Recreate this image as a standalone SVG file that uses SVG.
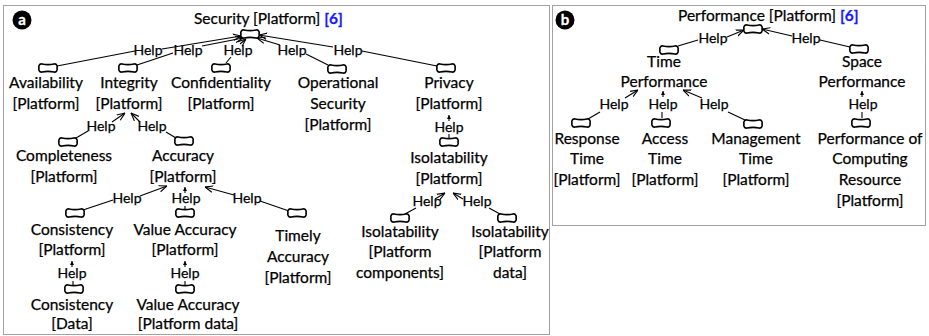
<svg xmlns="http://www.w3.org/2000/svg" width="929" height="336" viewBox="0 0 929 336">
<style>
text{font-family:Lato,"Open Sans",sans-serif;fill:#000;stroke:#000;stroke-width:0.25}
.t{font-size:15.5px;text-anchor:middle}
.h{font-size:14px;text-anchor:middle}
.ttl{font-size:15.5px}
.ref{fill:#1a1aff;stroke:#1a1aff;font-weight:bold}
.frame{fill:none;stroke:#444;stroke-width:1;stroke-dasharray:1,1}
.c{fill:#fff;stroke:#000;stroke-width:1.6}
.e{fill:none;stroke:#000;stroke-width:1.1}
.a{marker-end:url(#arr)}
.s{marker-end:url(#tri)}
.badge{fill:#000}
.bt{fill:#fff;stroke:#fff;stroke-width:0.3;font-size:15px;font-weight:bold;text-anchor:middle}
</style>
<defs>
<path id="cloud" d="M-6,-4 C-2,-3.1 2,-3.1 6,-4 C9,-4.6 9.6,-1 9,0 C9.6,1 9,4.6 6,4 C2,3.1 -2,3.1 -6,4 C-9,4.6 -9.6,1 -9,0 C-9.6,-1 -9,-4.6 -6,-4 Z"/>
<marker id="arr" viewBox="0 0 10 10" refX="10" refY="5" markerWidth="8" markerHeight="8" markerUnits="userSpaceOnUse" orient="auto">
<path d="M0,1 L10,5 L0,9" fill="none" stroke="#000" stroke-width="1.4"/>
</marker>
<marker id="tri" viewBox="0 0 10 10" refX="10" refY="5" markerWidth="4" markerHeight="4" markerUnits="userSpaceOnUse" orient="auto">
<path d="M0,0 L10,5 L0,10 Z" fill="#000"/>
</marker>
</defs>
<rect x="0" y="0" width="929" height="336" fill="#fff"/>

<rect class="frame" x="3.5" y="5.5" width="546" height="329"/>
<rect class="frame" x="552.5" y="5.5" width="373" height="220"/>

<g id="badge-a"><circle class="badge" cx="22" cy="20" r="9.5"/><text class="bt" x="22" y="25">a</text></g>
<g id="badge-b"><circle class="badge" cx="565" cy="20" r="9.5"/><text class="bt" x="565" y="25">b</text></g>

<g id="connectors">
<!-- Security -->
<line class="e" x1="57" y1="66" x2="135" y2="51"/>
<line class="e a" x1="162" y1="49" x2="241" y2="36"/>
<text class="h" x="148" y="55">Help</text>
<line class="e" x1="137" y1="65" x2="173" y2="53"/>
<line class="e a" x1="202" y1="46" x2="243" y2="38"/>
<text class="h" x="188" y="55">Help</text>
<line class="e" x1="226" y1="63" x2="231" y2="57"/>
<line class="e a" x1="240" y1="44" x2="246" y2="39"/>
<text class="h" x="238" y="55">Help</text>
<line class="e" x1="328" y1="65" x2="306" y2="54"/>
<line class="e a" x1="280" y1="45" x2="257" y2="38"/>
<text class="h" x="292" y="55">Help</text>
<line class="e" x1="437" y1="66" x2="362" y2="51"/>
<line class="e a" x1="333" y1="47" x2="259" y2="35"/>
<text class="h" x="348" y="55">Help</text>
<!-- Integrity -->
<line class="e" x1="76" y1="138" x2="88" y2="131"/>
<line class="e a" x1="112" y1="122" x2="125" y2="113"/>
<text class="h" x="101" y="131">Help</text>
<line class="e" x1="166" y1="132" x2="176" y2="138"/>
<line class="e a" x1="140" y1="122" x2="131" y2="113"/>
<text class="h" x="152" y="131">Help</text>
<!-- Accuracy -->
<line class="e" x1="83" y1="210" x2="113" y2="200"/>
<line class="e a" x1="140" y1="196" x2="167" y2="186"/>
<text class="h" x="127" y="203">Help</text>
<line class="e s" x1="185" y1="193" x2="185" y2="187"/>
<line class="e" x1="185" y1="206" x2="185" y2="209"/>
<text class="h" x="186" y="203">Help</text>
<line class="e" x1="289" y1="211" x2="260" y2="201"/>
<line class="e a" x1="234" y1="195" x2="205" y2="187"/>
<text class="h" x="247" y="203">Help</text>
<!-- Consistency / Value Accuracy -->
<line class="e s" x1="72" y1="267" x2="72" y2="261"/>
<line class="e" x1="73" y1="281" x2="73" y2="285"/>
<text class="h" x="72" y="278">Help</text>
<line class="e s" x1="185" y1="267" x2="185" y2="261"/>
<line class="e" x1="185" y1="281" x2="185" y2="285"/>
<text class="h" x="185" y="278">Help</text>
<!-- Privacy -->
<line class="e s" x1="449" y1="121" x2="449" y2="115"/>
<line class="e" x1="449" y1="134" x2="449" y2="138"/>
<text class="h" x="449" y="132">Help</text>
<!-- Isolatability -->
<line class="e" x1="405" y1="214" x2="416" y2="208"/>
<line class="e a" x1="435" y1="199" x2="445" y2="193"/>
<text class="h" x="427" y="206">Help</text>
<line class="e" x1="500" y1="214" x2="489" y2="208"/>
<line class="e a" x1="463" y1="199" x2="453" y2="193"/>
<text class="h" x="477" y="206">Help</text>
<!-- Performance -->
<line class="e" x1="678" y1="46" x2="698" y2="40"/>
<line class="e a" x1="727" y1="37" x2="744" y2="30"/>
<text class="h" x="713" y="43">Help</text>
<line class="e" x1="850" y1="47" x2="820" y2="40"/>
<line class="e a" x1="792" y1="36" x2="762" y2="29"/>
<text class="h" x="806" y="43">Help</text>
<!-- Time Performance -->
<line class="e" x1="588" y1="119" x2="600" y2="112"/>
<line class="e a" x1="625" y1="98" x2="638" y2="90"/>
<text class="h" x="614" y="109">Help</text>
<line class="e s" x1="663" y1="97" x2="663" y2="91"/>
<line class="e" x1="662" y1="112" x2="662" y2="118"/>
<text class="h" x="663" y="109">Help</text>
<line class="e" x1="728" y1="112" x2="745" y2="120"/>
<line class="e a" x1="702" y1="98" x2="683" y2="90"/>
<text class="h" x="714" y="109">Help</text>
<!-- Space Performance -->
<line class="e s" x1="862" y1="97" x2="862" y2="91"/>
<line class="e" x1="862" y1="112" x2="862" y2="118"/>
<text class="h" x="863" y="109">Help</text>
</g>

<g id="n-security"><use href="#cloud" x="250" y="34" class="c"/><text class="ttl" x="194" y="24">Security [Platform] <tspan class="ref">[6]</tspan></text></g>
<g id="n-availability"><use href="#cloud" x="48" y="68" class="c"/><text class="t" x="46" y="88">Availability<tspan x="46" dy="21">[Platform]</tspan></text></g>
<g id="n-integrity"><use href="#cloud" x="128" y="68" class="c"/><text class="t" x="129" y="88">Integrity<tspan x="129" dy="21">[Platform]</tspan></text></g>
<g id="n-confidentiality"><use href="#cloud" x="221" y="68" class="c"/><text class="t" x="221" y="88">Confidentiality<tspan x="221" dy="21">[Platform]</tspan></text></g>
<g id="n-opsec"><use href="#cloud" x="337" y="69" class="c"/><text class="t" x="338" y="88">Operational<tspan x="338" dy="21">Security</tspan><tspan x="338" dy="21">[Platform]</tspan></text></g>
<g id="n-privacy"><use href="#cloud" x="446" y="68" class="c"/><text class="t" x="449" y="88">Privacy<tspan x="449" dy="21">[Platform]</tspan></text></g>
<g id="n-completeness"><use href="#cloud" x="68" y="142" class="c"/><text class="t" x="64" y="161">Completeness<tspan x="64" dy="21">[Platform]</tspan></text></g>
<g id="n-accuracy"><use href="#cloud" x="184" y="141" class="c"/><text class="t" x="183" y="161">Accuracy<tspan x="183" dy="21">[Platform]</tspan></text></g>
<g id="n-isolatability"><use href="#cloud" x="449" y="142" class="c"/><text class="t" x="449" y="163">Isolatability<tspan x="449" dy="21">[Platform]</tspan></text></g>
<g id="n-consistency"><use href="#cloud" x="75" y="213" class="c"/><text class="t" x="72" y="235">Consistency<tspan x="72" dy="20">[Platform]</tspan></text></g>
<g id="n-valueaccuracy"><use href="#cloud" x="185" y="213" class="c"/><text class="t" x="185" y="235">Value Accuracy<tspan x="185" dy="20">[Platform]</tspan></text></g>
<g id="n-timely"><use href="#cloud" x="297" y="213" class="c"/><text class="t" x="298" y="241">Timely<tspan x="298" dy="21">Accuracy</tspan><tspan x="298" dy="21">[Platform]</tspan></text></g>
<g id="n-isocomp"><use href="#cloud" x="400" y="218" class="c"/><text class="t" x="400" y="237">Isolatability<tspan x="400" dy="20">[Platform</tspan><tspan x="400" dy="21">components]</tspan></text></g>
<g id="n-isodata"><use href="#cloud" x="507" y="218" class="c"/><text class="t" x="510" y="237">Isolatability<tspan x="510" dy="20">[Platform</tspan><tspan x="510" dy="21">data]</tspan></text></g>
<g id="n-consdata"><use href="#cloud" x="74" y="289" class="c"/><text class="t" x="72" y="310">Consistency<tspan x="72" dy="19">[Data]</tspan></text></g>
<g id="n-valdata"><use href="#cloud" x="185" y="289" class="c"/><text class="t" x="188" y="310">Value Accuracy<tspan x="188" dy="19">[Platform data]</tspan></text></g>

<g id="n-performance"><use href="#cloud" x="753" y="29" class="c"/><text class="ttl" x="678" y="21">Performance [Platform] <tspan class="ref">[6]</tspan></text></g>
<g id="n-timeperf"><use href="#cloud" x="669" y="50" class="c"/><text class="t" x="664" y="67">Time<tspan x="664" dy="20">Performance</tspan></text></g>
<g id="n-spaceperf"><use href="#cloud" x="859" y="49" class="c"/><text class="t" x="862" y="67">Space<tspan x="862" dy="20">Performance</tspan></text></g>
<g id="n-response"><use href="#cloud" x="581" y="123" class="c"/><text class="t" x="587" y="144">Response<tspan x="587" dy="20">Time</tspan><tspan x="587" dy="21">[Platform]</tspan></text></g>
<g id="n-access"><use href="#cloud" x="661" y="123" class="c"/><text class="t" x="665" y="144">Access<tspan x="665" dy="20">Time</tspan><tspan x="665" dy="21">[Platform]</tspan></text></g>
<g id="n-management"><use href="#cloud" x="753" y="124" class="c"/><text class="t" x="756" y="144">Management<tspan x="756" dy="20">Time</tspan><tspan x="756" dy="21">[Platform]</tspan></text></g>
<g id="n-perfcomp"><use href="#cloud" x="861" y="123" class="c"/><text class="t" x="870" y="144">Performance of<tspan x="870" dy="20">Computing</tspan><tspan x="870" dy="21">Resource</tspan><tspan x="870" dy="21">[Platform]</tspan></text></g>
</svg>
